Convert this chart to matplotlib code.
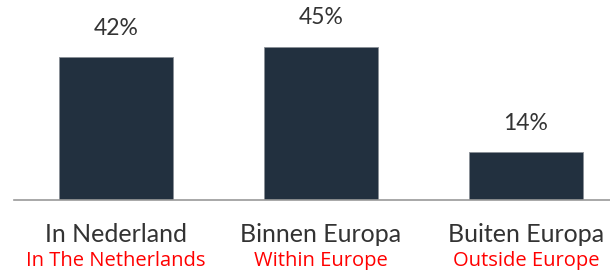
import matplotlib
matplotlib.use("Agg")
import matplotlib.pyplot as plt
from matplotlib.transforms import blended_transform_factory

categories = ["In Nederland", "Binnen Europa", "Buiten Europa"]
translations = ["In The Netherlands", "Within Europe", "Outside Europe"]
values = [42, 45, 14]

bar_color = "#22303f"

fig = plt.figure(figsize=(6.1, 2.7), dpi=100)
# axes in pixel terms: left 14, right 610, baseline at y=200 from top
ax = fig.add_axes([14 / 610, 1 - 200 / 270, 596 / 610, 200 / 270])

x = range(len(categories))
ax.bar(x, values, width=0.56, color=bar_color, edgecolor="#8a8f96", linewidth=0.6)

ax.set_xlim(-0.498, 2.41)
ax.set_ylim(0, 58.8)

for xi, v in zip(x, values):
    ax.annotate(f"{v}%", (xi, v), xytext=(0, 29 * 0.72), textcoords="offset points",
                ha="center", va="center", fontsize=16.5, family="Lato",
                color="#333333")

trans = blended_transform_factory(ax.transData, ax.transAxes)
for xi, cat, tr in zip(x, categories, translations):
    ax.annotate(cat, (xi, 0), xycoords=trans, xytext=(0, -35 * 0.72),
                textcoords="offset points", ha="center", va="center",
                fontsize=18, family="Lato", color="#333333",
                annotation_clip=False)
    ax.annotate(tr, (xi, 0), xycoords=trans, xytext=(0, -61 * 0.72),
                textcoords="offset points", ha="center", va="center",
                fontsize=14.5, family="Open Sans", color="#ff0000",
                annotation_clip=False)

for s in ["top", "right", "left"]:
    ax.spines[s].set_visible(False)
ax.spines["bottom"].set_color("#9a9a9a")
ax.spines["bottom"].set_linewidth(1.2)
ax.set_xticks([])
ax.set_yticks([])

fig.savefig("out.png", dpi=100)
